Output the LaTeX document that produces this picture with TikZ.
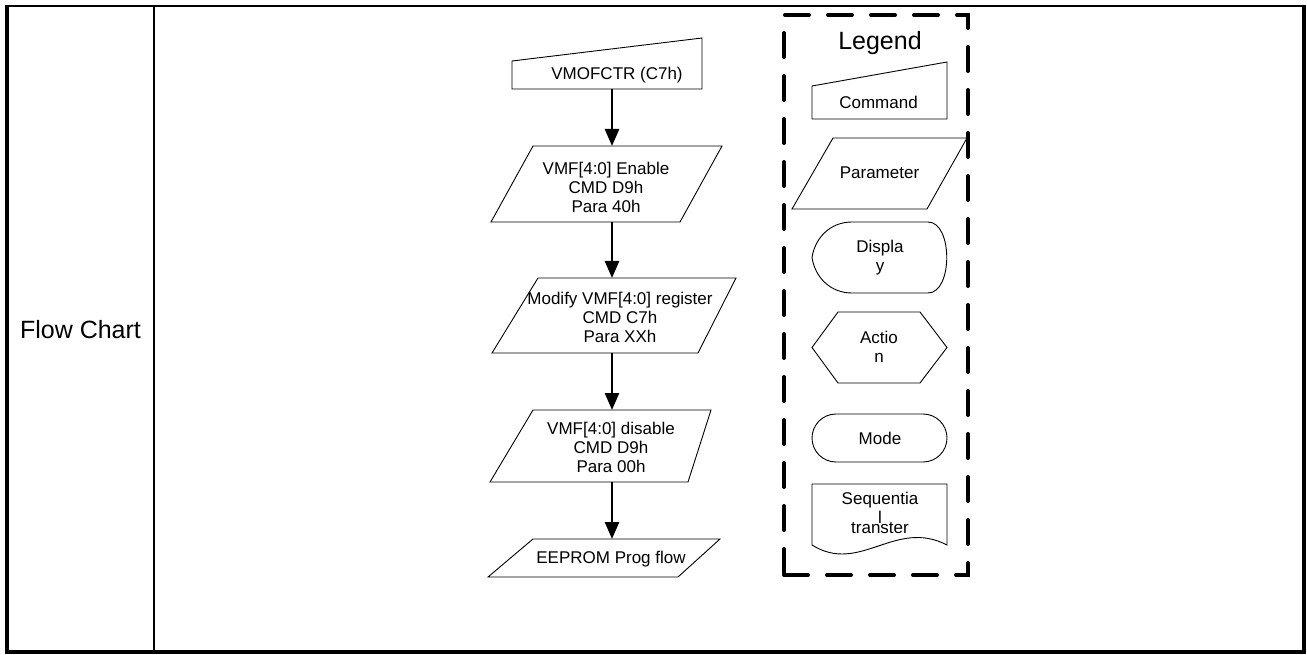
\documentclass[tikz,border=0pt]{standalone}
\usepackage{fontspec}
\setmainfont{Liberation Sans}
\usetikzlibrary{arrows.meta}
\begin{document}
\begin{tikzpicture}[x=1pt,y=-1pt,
  geo/.style={draw=none, inner sep=0pt, outer sep=0pt},
  outl/.style={draw=black, line width=0.9pt},
  txt/.style={inner sep=0pt, align=center, font=\fontsize{17}{19}\selectfont},
  bigtxt/.style={inner sep=0pt, font=\fontsize{25}{29}\selectfont},
  arr/.style={line width=2.6pt, -{Triangle[length=17pt,width=14pt]}},
  thinrule/.style={line width=2pt},
  thickrule/.style={line width=4pt},
  legendbox/.style={draw=black, line width=4pt, dash pattern=on 24pt off 19pt, line cap=round, inner sep=0pt}]
\useasboundingbox (0,0) rectangle (1307,655);

% table frame
\draw[thinrule] (5,6) -- (1306,6);
\draw[thickrule] (7,5) -- (7,654);
\draw[thickrule] (5,652) -- (1306,652);
\draw[thickrule] (1304,5) -- (1304,654);
\draw[thinrule] (154,6) -- (154,652);
\node[bigtxt] (fc) at (80.5,330) {Flow Chart};

% flow chart shape boxes (geometry)
\node[geo, minimum width=190pt, minimum height=51pt] (c1) at (607,63.5) {};
\node[geo, minimum width=231pt, minimum height=76pt] (p1) at (606.5,184) {};
\node[geo, minimum width=244pt, minimum height=75pt] (p2) at (614,315.5) {};
\node[geo, minimum width=221pt, minimum height=72pt] (p3) at (600.5,446) {};
\node[geo, minimum width=232pt, minimum height=38pt] (p4) at (604,558) {};
\coordinate (ax) at (612,0);

% outlines
\draw[outl] (512,89) -- (702,89) -- (702,38) -- (512,61) -- cycle;
\draw[outl] (533,146) -- (722,146) -- (680,222) -- (491,222) -- cycle;
\draw[outl] (538,278) -- (736,278) -- (698,353) -- (492,353) -- cycle;
\draw[outl] (533,410) -- (711,410) -- (688,482) -- (490,482) -- cycle;
\draw[outl] (533,539) -- (720,539) -- (678,577) -- (488,577) -- cycle;

% texts
\node[txt] (t1) at (617,75) {VMOFCTR (C7h)};
\node[txt] (t2) at (606,187) {VMF[4:0] Enable\\CMD D9h\\Para 40h};
\node[txt] (t3) at (620,317) {Modify VMF[4:0] register\\CMD C7h\\Para XXh};
\node[txt] (t4) at (611,447) {VMF[4:0] disable\\CMD D9h\\Para 00h};
\node[txt] (t5) at (611,559.5) {EEPROM Prog flow};

% arrows
\draw[arr] (c1.south -| ax) -- (p1.north -| ax);
\draw[arr] (p1.south -| ax) -- (p2.north -| ax);
\draw[arr] (p2.south -| ax) -- (p3.north -| ax);
\draw[arr] (p3.south -| ax) -- (p4.north -| ax);

% legend
\node[legendbox, minimum width=184pt, minimum height=560pt] (lgbox) at (876,295) {};
\node[bigtxt] (lgt) at (880,43.5) {Legend};

\draw[outl] (812,119) -- (947,119) -- (947,62) -- (812,86) -- cycle;
\node[txt] (lc) at (878.5,102) {Command};

\draw[outl] (833,138) -- (967,138) -- (927,209) -- (792,209) -- cycle;
\node[txt] (lp) at (879.5,172.5) {Parameter};

\draw[outl] (812,257.5) .. controls (815,238) and (830,222) .. (852,222) -- (928,222)
  .. controls (953,222) and (953,293) .. (928,293) -- (852,293)
  .. controls (830,293) and (815,277) .. (812,257.5) -- cycle;
\node[txt] (ld) at (880,258) {Displa\\y};

\draw[outl] (812,347.5) -- (838,312) -- (920,312) -- (947,347.5) -- (920,383) -- (838,383) -- cycle;
\node[txt] (la) at (879,347) {Actio\\n};

\draw[outl, rounded corners=24pt] (812,414) rectangle (947,462);
\node[txt] (lm) at (880,438) {Mode};

\draw[outl] (812,545) -- (812,484) -- (947,484) -- (947,545)
  .. controls (895,518) and (860,575) .. (812,545) -- cycle;
\node[txt] (ls) at (880,513) {Sequentia\\l\\[-9pt]transter};
\end{tikzpicture}
\end{document}
